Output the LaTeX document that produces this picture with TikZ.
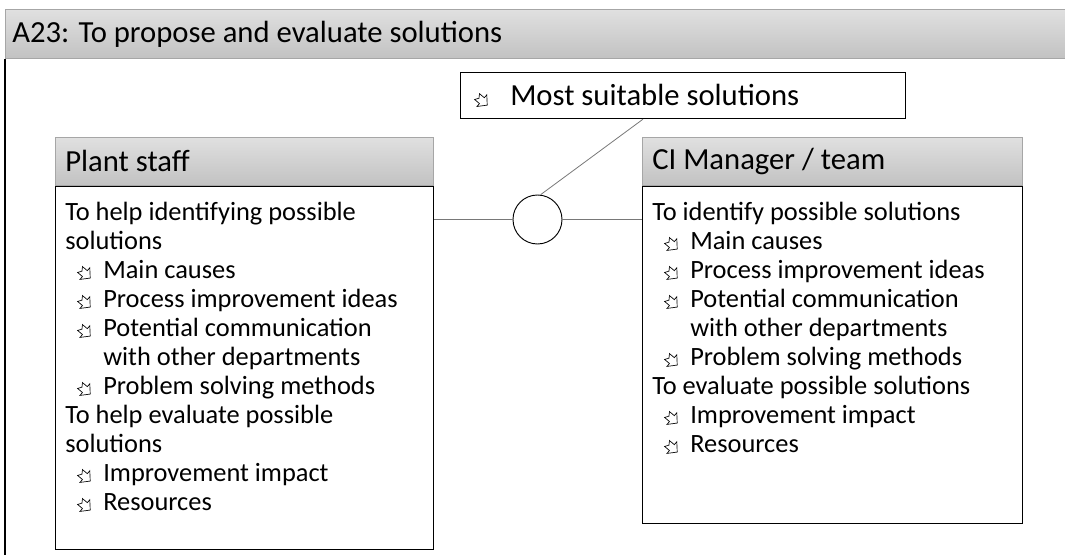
\documentclass[tikz,border=0pt]{standalone}
\usepackage{fontspec}
\setmainfont{Carlito}
\usetikzlibrary{positioning}
\definecolor{HeadTop}{RGB}{224,224,224}
\definecolor{HeadBot}{RGB}{194,194,194}
\definecolor{LinkGray}{RGB}{120,120,120}
% hollow arrow bullet, pointing down-right
\newcommand{\pnt}{\tikz[baseline=0pt, line join=miter]
    \draw[line width=0.5pt] (1.83pt,8.99pt) -- (5.47pt,5.94pt) -- (7.31pt,8.12pt) -- (7.64pt,0.39pt) -- (-0.03pt,-0.62pt)
        -- (1.81pt,1.57pt) -- (-1.83pt,4.61pt) -- (1.45pt,5.57pt) -- cycle;}
\newcommand{\itm}[1]{\makebox[28.5pt][l]{\hspace{9pt}\pnt}#1}
\newcommand{\cont}[1]{\hspace*{28.5pt}#1}

\begin{document}
\begin{tikzpicture}[
    x=0.75pt, y=-0.75pt,
    head/.style={draw=gray!70, line width=0.5pt, top color=HeadTop, bottom color=HeadBot, inner sep=0pt, minimum height=36pt},
    headtxt/.style={anchor=west, inner sep=0pt, font=\fontsize{23}{25}\selectfont},
    body/.style={draw, line width=0.9pt, fill=white, inner sep=0pt},
    txt/.style={align=left, inner sep=0pt, font=\fontsize{19.8}{21.75}\selectfont},
    link/.style={draw=LinkGray, line width=0.6pt},
    node distance=0pt
]
    \useasboundingbox (0,0) rectangle (1065,555);

    % title bar
    \node[head, anchor=north west, minimum width=795pt, minimum height=36.75pt] (title) at (5,9) {};
    \node[headtxt, right=5.25pt of title.west] (titleTxt) {A23: To propose and evaluate solutions};
    \coordinate (frameEnd) at (5,560);
    \draw[line width=0.9pt] (title.south west) -- (frameEnd);

    % output
    \node[body, anchor=north west, minimum width=333.75pt, minimum height=34.5pt] (suit) at (460,72) {};
    \node[headtxt, right=9pt of suit.west] (suitTxt) {\makebox[28.5pt][l]{\hspace{1.5pt}\pnt}Most suitable solutions};

    % plant staff
    \node[head, anchor=north west, minimum width=283.5pt] (plantHead) at (55,137) {};
    \node[headtxt, right=7.5pt of plantHead.west] (plantLabel) {Plant staff};
    \node[body, below=of plantHead, minimum width=283.5pt, minimum height=272.25pt] (plantBody) {};
    \node[txt, anchor=north west] (plantTxt) at (65,202) {To help identifying possible\\ solutions\\
        \itm{Main causes}\\ \itm{Process improvement ideas}\\ \itm{Potential communication}\\ \cont{with other departments}\\
        \itm{Problem solving methods}\\ To help evaluate possible\\ solutions\\ \itm{Improvement impact}\\ \itm{Resources}};

    % CI manager
    \node[head, anchor=north west, minimum width=285pt] (ciHead) at (642,137) {};
    \node[headtxt, right=7.5pt of ciHead.west] (ciLabel) {CI Manager / team};
    \node[body, below=of ciHead, minimum width=285pt, minimum height=252.75pt] (ciBody) {};
    \node[txt, anchor=north west] (ciTxt) at (652,202) {To identify possible solutions\\
        \itm{Main causes}\\ \itm{Process improvement ideas}\\ \itm{Potential communication}\\ \cont{with other departments}\\
        \itm{Problem solving methods}\\ To evaluate possible solutions\\ \itm{Improvement impact}\\ \itm{Resources}};

    % meeting point
    \node[draw, circle, line width=0.7pt, minimum size=36.75pt, inner sep=0pt] (meet) at (537.5,219.5) {};
    \draw[link] (plantBody.east |- meet) -- (meet.west);
    \draw[link] (meet.east) -- (ciBody.west |- meet);
    \draw[link] (meet.83) -- (suit.south west -| 643,0);
\end{tikzpicture}
\end{document}
